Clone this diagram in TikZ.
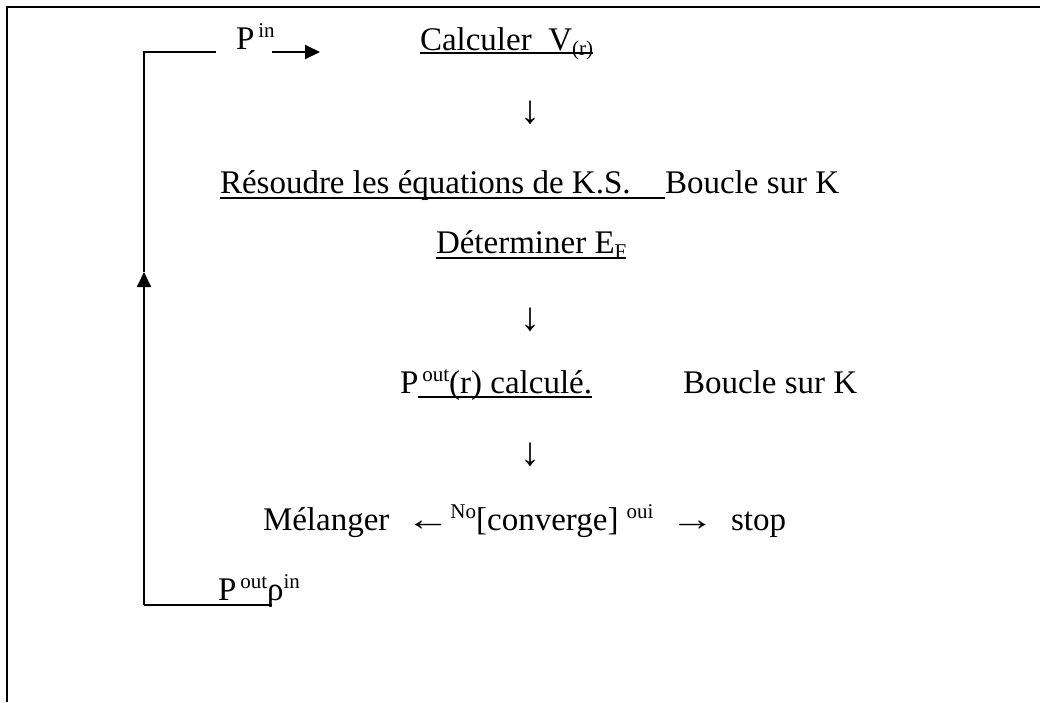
\documentclass[tikz,border=0pt]{standalone}
\usepackage{fontspec}
\setmainfont{Liberation Serif}
\usetikzlibrary{arrows.meta}
\newcommand\mysup[1]{\raisebox{0.36em}{\fontsize{21}{21}\selectfont #1}}
\newcommand\mysub[1]{\raisebox{-0.16em}{\fontsize{21}{21}\selectfont #1}}
\newcommand\longarr[1]{\scalebox{1.35}[1]{#1}}
\tikzset{
  txt/.style={anchor=base west, inner sep=0pt, outer sep=0pt, font=\fontsize{33}{38}\selectfont},
  glyph/.style={anchor=center, inner sep=0pt, font=\fontsize{40}{44}\selectfont},
  rule/.style={line width=1.8pt},
  frame/.style={line width=2pt},
  loop/.style={line width=2pt},
  tip/.style={-{Triangle[length=15pt,width=14pt]}, line width=2pt}
}
\begin{document}
\begin{tikzpicture}[x=1pt,y=1pt]
\useasboundingbox (0,0) rectangle (1040,-702);
% frame
\coordinate (f1) at (7,-702);
\coordinate (f2) at (7,-7);
\coordinate (f3) at (1040,-7);
\draw[frame] (f1) -- (f2) -- (f3);

% top line
\node[txt] (pin) at (236,-49) {P\hspace{4pt}\mysup{in}};
\coordinate (arrs) at (272,-52);
\coordinate (arre) at (320,-52);
\draw[tip] (arrs) -- (arre);
\node[txt] (calc) at (420,-50) {Calculer\ \ V\mysub{(r)}};
\draw[rule] ([yshift=-3pt]calc.base west) -- ([yshift=-3pt]calc.base east);

\node[glyph] (d1) at (530,-113) {↓};

\node[txt] (res) at (220,-193) {Résoudre les équations de K.S.};
\node[txt] (b1) at (665,-193) {Boucle sur K};
\draw[rule] ([yshift=-5pt]res.base west) -- ([yshift=-5pt]b1.base west);

\node[txt] (det) at (436,-253) {Déterminer E\mysub{F}};
\draw[rule] ([yshift=-5pt]det.base west) -- ([yshift=-5pt]det.base east);

\node[glyph] (d2) at (530,-320) {↓};

\node[txt] (pout) at (400,-393) {P};
\node[txt, anchor=base west] (calcule) at ([xshift=4pt]pout.base east) {\mysup{out}(r) calculé.};
\draw[rule] ([yshift=-4pt]pout.base east) -- ([yshift=-4pt]calcule.base east);
\node[txt] (b2) at (683,-393) {Boucle sur K};

\node[glyph] (d3) at (530,-455) {↓};

\node[txt] (mel) at (263,-530) {Mélanger\ \ \longarr{←}\mysup{No}[converge]\ \mysup{oui}\ \ \longarr{→}\ \ stop};

% bottom
\node[txt] (prho) at (218,-600) {P\hspace{4pt}\mysup{out}ρ\mysup{in}};

% loop
\coordinate (bl) at (144,-605);
\coordinate (br) at (272,-605);
\coordinate (mid) at (144,-272);
\coordinate (tl) at (144,-52);
\coordinate (tr) at (216,-52);
\draw[loop] (br) -- (bl);
\draw[tip] (bl) -- (mid);
\draw[loop] (mid) -- (tl) -- (tr);
\end{tikzpicture}
\end{document}
